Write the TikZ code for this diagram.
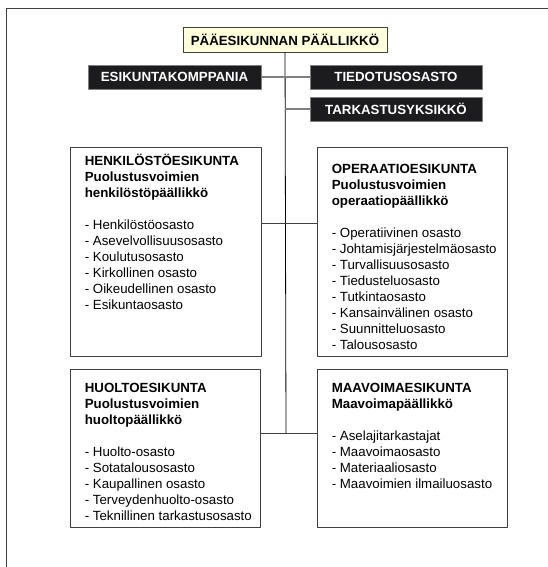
\documentclass[tikz,border=0pt]{standalone}
\usepackage{fontspec}
\setmainfont{Liberation Sans}
\usepackage{tikz}
\usetikzlibrary{calc}

\definecolor{chiefcol}{rgb}{1,1,0.86}
\definecolor{unitcol}{rgb}{0.11,0.11,0.12}
\definecolor{linecol}{rgb}{0.25,0.25,0.25}

\begin{document}
\begin{tikzpicture}[line join=bevel,
  every node/.style={font=\fontsize{13.3bp}{16bp}\selectfont},
  chief/.style={draw=linecol,fill=chiefcol,line width=0.8bp,minimum width=204bp,
    minimum height=25bp,inner sep=0pt,font=\fontsize{13.3bp}{16bp}\selectfont\bfseries},
  unit/.style={draw=gray,fill=unitcol,text=white,line width=0.8bp,minimum height=24bp,
    inner sep=0pt,font=\fontsize{13.3bp}{16bp}\selectfont\bfseries},
  staff/.style={draw=linecol,line width=0.8bp,inner sep=0pt},
  stafftext/.style={anchor=north west,align=left,inner sep=0pt},
  link/.style={draw=gray,line width=1.2bp},
]
%%
\useasboundingbox (0bp,0bp) rectangle (548bp,567bp);
  \coordinate (framebl) at (6bp,0bp);
  \coordinate (framet) at (6bp,559bp);
  \coordinate (frametr) at (548bp,559bp);
  \draw [linecol,line width=0.8bp] (framebl) -- (framet) -- (frametr);
%%
  \node (paa) at (285bp,527.5bp) [chief] {PÄÄESIKUNNAN PÄÄLLIKKÖ};
  \node (esik) at (174.5bp,490bp) [unit,minimum width=173bp] {ESIKUNTAKOMPPANIA};
  \node (tied) at (396bp,490bp) [unit,minimum width=172bp] {TIEDOTUSOSASTO};
  \node (tark) at (396bp,458bp) [unit,minimum width=172bp] {TARKASTUSYKSIKKÖ};
  \node (henk) at (165.5bp,315.5bp) [staff,minimum width=191bp,minimum height=209bp] {};
  \node (oper) at (412bp,315.5bp) [staff,minimum width=190bp,minimum height=209bp] {};
  \node (huolto) at (165bp,119bp) [staff,minimum width=190bp,minimum height=158bp] {};
  \node (maav) at (412bp,119bp) [staff,minimum width=190bp,minimum height=158bp] {};
  \coordinate (stem) at (286bp,134bp);
  \coordinate (staffjoin) at (286bp,344bp);
%%
  \node (henktext) at ($(henk.north west)+(15bp,-5.5bp)$) [stafftext] {\rule{0pt}{13bp}\textbf{HENKILÖSTÖESIKUNTA}\\
    \textbf{Puolustusvoimien}\\ \textbf{henkilöstöpäällikkö}\\[16bp]
    - Henkilöstöosasto\\ - Asevelvollisuusosasto\\ - Koulutusosasto\\
    - Kirkollinen osasto\\ - Oikeudellinen osasto\\ - Esikuntaosasto};
  \node (opertext) at ($(oper.north west)+(15bp,-13.3bp)$) [stafftext] {\rule{0pt}{13bp}\textbf{OPERAATIOESIKUNTA}\\
    \textbf{Puolustusvoimien}\\ \textbf{operaatiopäällikkö}\\[16bp]
    - Operatiivinen osasto\\ - Johtamisjärjestelmäosasto\\ - Turvallisuusosasto\\
    - Tiedusteluosasto\\ - Tutkintaosasto\\ - Kansainvälinen osasto\\
    - Suunnitteluosasto\\ - Talousosasto};
  \node (huoltotext) at ($(huolto.north west)+(15bp,-11bp)$) [stafftext] {\rule{0pt}{13bp}\textbf{HUOLTOESIKUNTA}\\
    \textbf{Puolustusvoimien}\\ \textbf{huoltopäällikkö}\\[16bp]
    - Huolto-osasto\\ - Sotatalousosasto\\ - Kaupallinen osasto\\
    - Terveydenhuolto-osasto\\ - Teknillinen tarkastusosasto};
  \node (maavtext) at ($(maav.north west)+(15bp,-11bp)$) [stafftext] {\rule{0pt}{13bp}\textbf{MAAVOIMAESIKUNTA}\\
    \textbf{Maavoimapäällikkö}\\[16bp]
    - Aselajitarkastajat\\ - Maavoimaosasto\\ - Materiaaliosasto\\
    - Maavoimien ilmailuosasto};
%%
  \draw [black,line width=0.8bp] (paa) -- (stem);
  \draw [link] (esik) -- (tied);
  \draw [link] (tark.west) -- (tark.west -| paa.south);
  \draw [linecol,line width=0.8bp] (staffjoin -| henk.east) -- (staffjoin -| oper.west);
  \draw [linecol,line width=0.8bp] (stem -| huolto.east) -- (stem -| maav.west);
%
\end{tikzpicture}
\end{document}
